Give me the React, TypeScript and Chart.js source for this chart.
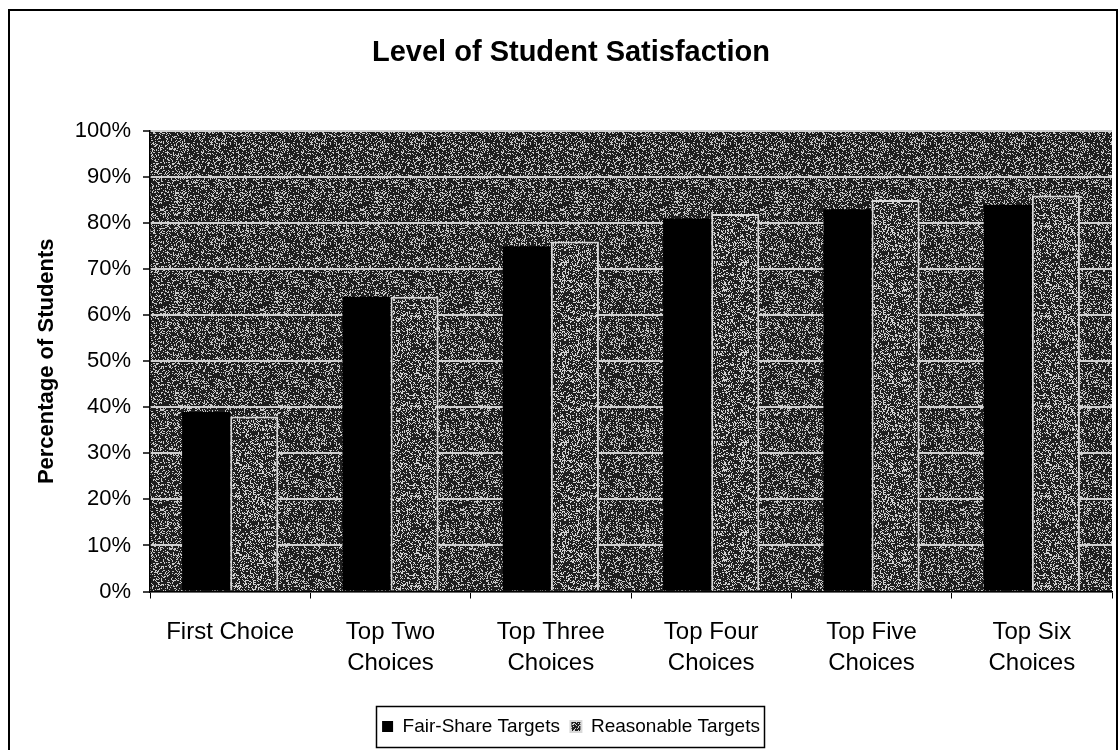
import React, { useEffect, useRef } from "react";
import { Chart, registerables } from "chart.js";

Chart.register(...registerables);

const chartTitle = "Level of Student Satisfaction";
const yAxisTitle = "Percentage of Students";
const categories: string[][] = [
  ["First Choice"],
  ["Top Two", "Choices"],
  ["Top Three", "Choices"],
  ["Top Four", "Choices"],
  ["Top Five", "Choices"],
  ["Top Six", "Choices"],
];
const seriesNames = ["Fair-Share Targets", "Reasonable Targets"];
const fairShareTargets = [39, 64, 75, 81, 83, 84];
const reasonableTargets = [38, 64, 76, 82, 85, 86];
const yTickValues = [0, 10, 20, 30, 40, 50, 60, 70, 80, 90, 100];

const FONT = "'Liberation Sans', Arial, Helvetica, sans-serif";

function hash(i: number, seed: number): number {
  let h = (Math.imul(i, 2654435761) + Math.imul(seed, 40503)) >>> 0;
  h ^= h >>> 15;
  h = Math.imul(h, 2246822519) >>> 0;
  h ^= h >>> 13;
  h = Math.imul(h, 3266489917) >>> 0;
  h ^= h >>> 16;
  return (h & 0xffff) / 0xffff;
}

function makeNoisePattern(
  target: CanvasRenderingContext2D,
  size: number,
  density: number,
  light: number,
  dark: number,
  seed: number
): CanvasPattern | string {
  const c = document.createElement("canvas");
  c.width = size;
  c.height = size;
  const ctx = c.getContext("2d");
  if (!ctx) return "#444";
  const img = ctx.createImageData(size, size);
  const blocks = Math.ceil(size / 5);
  for (let y = 0; y < size; y++) {
    for (let x = 0; x < size; x++) {
      const i = y * size + x;
      const b = Math.floor(y / 5) * blocks + Math.floor(x / 5);
      const local = density + 0.16 * (hash(b, seed + 101) - 0.5);
      const r = hash(i, seed);
      const v = r < local ? light : dark;
      img.data[i * 4] = v;
      img.data[i * 4 + 1] = v;
      img.data[i * 4 + 2] = v;
      img.data[i * 4 + 3] = 255;
    }
  }
  ctx.putImageData(img, 0, 0);
  return target.createPattern(c, "repeat") || "#444";
}

export default function App() {
  const canvasRef = useRef<HTMLCanvasElement | null>(null);

  useEffect(() => {
    const canvas = canvasRef.current;
    if (!canvas) return;
    const ctx = canvas.getContext("2d");
    if (!ctx) return;

    const bgPattern = makeNoisePattern(ctx, 100, 0.27, 200, 30, 7);
    const barPattern = makeNoisePattern(ctx, 90, 0.3, 210, 32, 13);

    const plotBackground = {
      id: "plotBackground",
      beforeDraw(chart: any) {
        const { ctx: c, chartArea } = chart;
        if (!chartArea) return;
        c.save();
        c.fillStyle = bgPattern;
        c.fillRect(chartArea.left, chartArea.top, chartArea.right - chartArea.left, chartArea.bottom - chartArea.top);
        c.restore();
      },
    };

    const legendFrame = {
      id: "legendFrame",
      afterDraw(chart: any) {
        const lg = chart.legend;
        if (!lg || !lg.legendHitBoxes || !lg.legendHitBoxes.length) return;
        let minX = Infinity, maxX = -Infinity, minY = Infinity, maxY = -Infinity;
        for (const hb of lg.legendHitBoxes) {
          minX = Math.min(minX, hb.left);
          maxX = Math.max(maxX, hb.left + hb.width);
          minY = Math.min(minY, hb.top);
          maxY = Math.max(maxY, hb.top + hb.height);
        }
        const c = chart.ctx;
        c.save();
        c.strokeStyle = "#000";
        c.lineWidth = 1.5;
        c.strokeRect(Math.round(minX - 6) + 0.5, Math.round(minY - 11) + 0.5, Math.round(maxX - minX + 10), Math.round(maxY - minY + 22));
        c.restore();
      },
    };

    const chart = new Chart(canvas, {
      type: "bar",
      data: {
        labels: categories,
        datasets: [
          {
            label: seriesNames[0],
            data: fairShareTargets,
            backgroundColor: "#000000",
            borderWidth: 0,
            categoryPercentage: 0.6,
            barPercentage: 1,
          },
          {
            label: seriesNames[1],
            data: reasonableTargets,
            backgroundColor: barPattern as any,
            borderColor: "#d8d8d8",
            borderWidth: 2,
            categoryPercentage: 0.6,
            barPercentage: 1,
          },
        ],
      },
      options: {
        responsive: false,
        animation: false,
        devicePixelRatio: 1,
        layout: { padding: { left: 30, right: 8, top: 10, bottom: 4 } },
        plugins: {
          title: {
            display: true,
            text: chartTitle,
            color: "#000",
            font: { family: FONT, size: 29, weight: "bold", lineHeight: 1.2 },
            padding: { top: 26, bottom: 60.2 },
          },
          legend: {
            display: true,
            position: "bottom",
            labels: {
              color: "#000",
              font: { family: FONT, size: 19 },
              boxWidth: 11,
              boxHeight: 11,
              padding: 10.5,
            },
          },
          tooltip: { enabled: false },
        },
        scales: {
          x: {
            grid: {
              drawOnChartArea: false,
              drawTicks: true,
              tickLength: 7,
              tickColor: "#000",
              offset: true,
            },
            border: { display: true, color: "#000", width: 1.5 },
            ticks: {
              color: "#000",
              font: { family: FONT, size: 24, lineHeight: 1.29 },
              padding: 18,
              maxRotation: 0,
              autoSkip: false,
            },
            afterFit(scale: any) {
              scale.height = 115;
            },
          },
          y: {
            min: 0,
            max: 100,
            afterBuildTicks(scale: any) {
              scale.ticks = yTickValues.map((v) => ({ value: v }));
            },
            ticks: {
              color: "#000",
              font: { family: FONT, size: 22 },
              padding: 12,
              callback: (v: any) => `${v}%`,
            },
            grid: {
              color: "#cfcfcf",
              lineWidth: 2,
              drawTicks: true,
              tickLength: 7,
              tickColor: "#000",
              tickWidth: 1.5,
            },
            border: { display: true, color: "#000", width: 1.5 },
            title: {
              display: true,
              text: yAxisTitle,
              color: "#000",
              font: { family: FONT, size: 22, weight: "bold", lineHeight: 1.2 },
              padding: { top: 4, bottom: 0 },
            },
            afterFit(scale: any) {
              scale.width = 120;
            },
          },
        },
      },
      plugins: [plotBackground, legendFrame],
    });

    return () => {
      chart.destroy();
    };
  }, []);

  return (
    <>
      <div
        style={{
          position: "fixed",
          left: 8,
          top: 9,
          width: 1110,
          height: 760,
          boxSizing: "border-box",
          border: "2px solid #000",
          pointerEvents: "none",
        }}
      />
      <canvas
        ref={canvasRef}
        width={1120}
        height={750}
        style={{ position: "fixed", left: 0, top: 0, width: "1120px", height: "750px" }}
      />
    </>
  );
}
